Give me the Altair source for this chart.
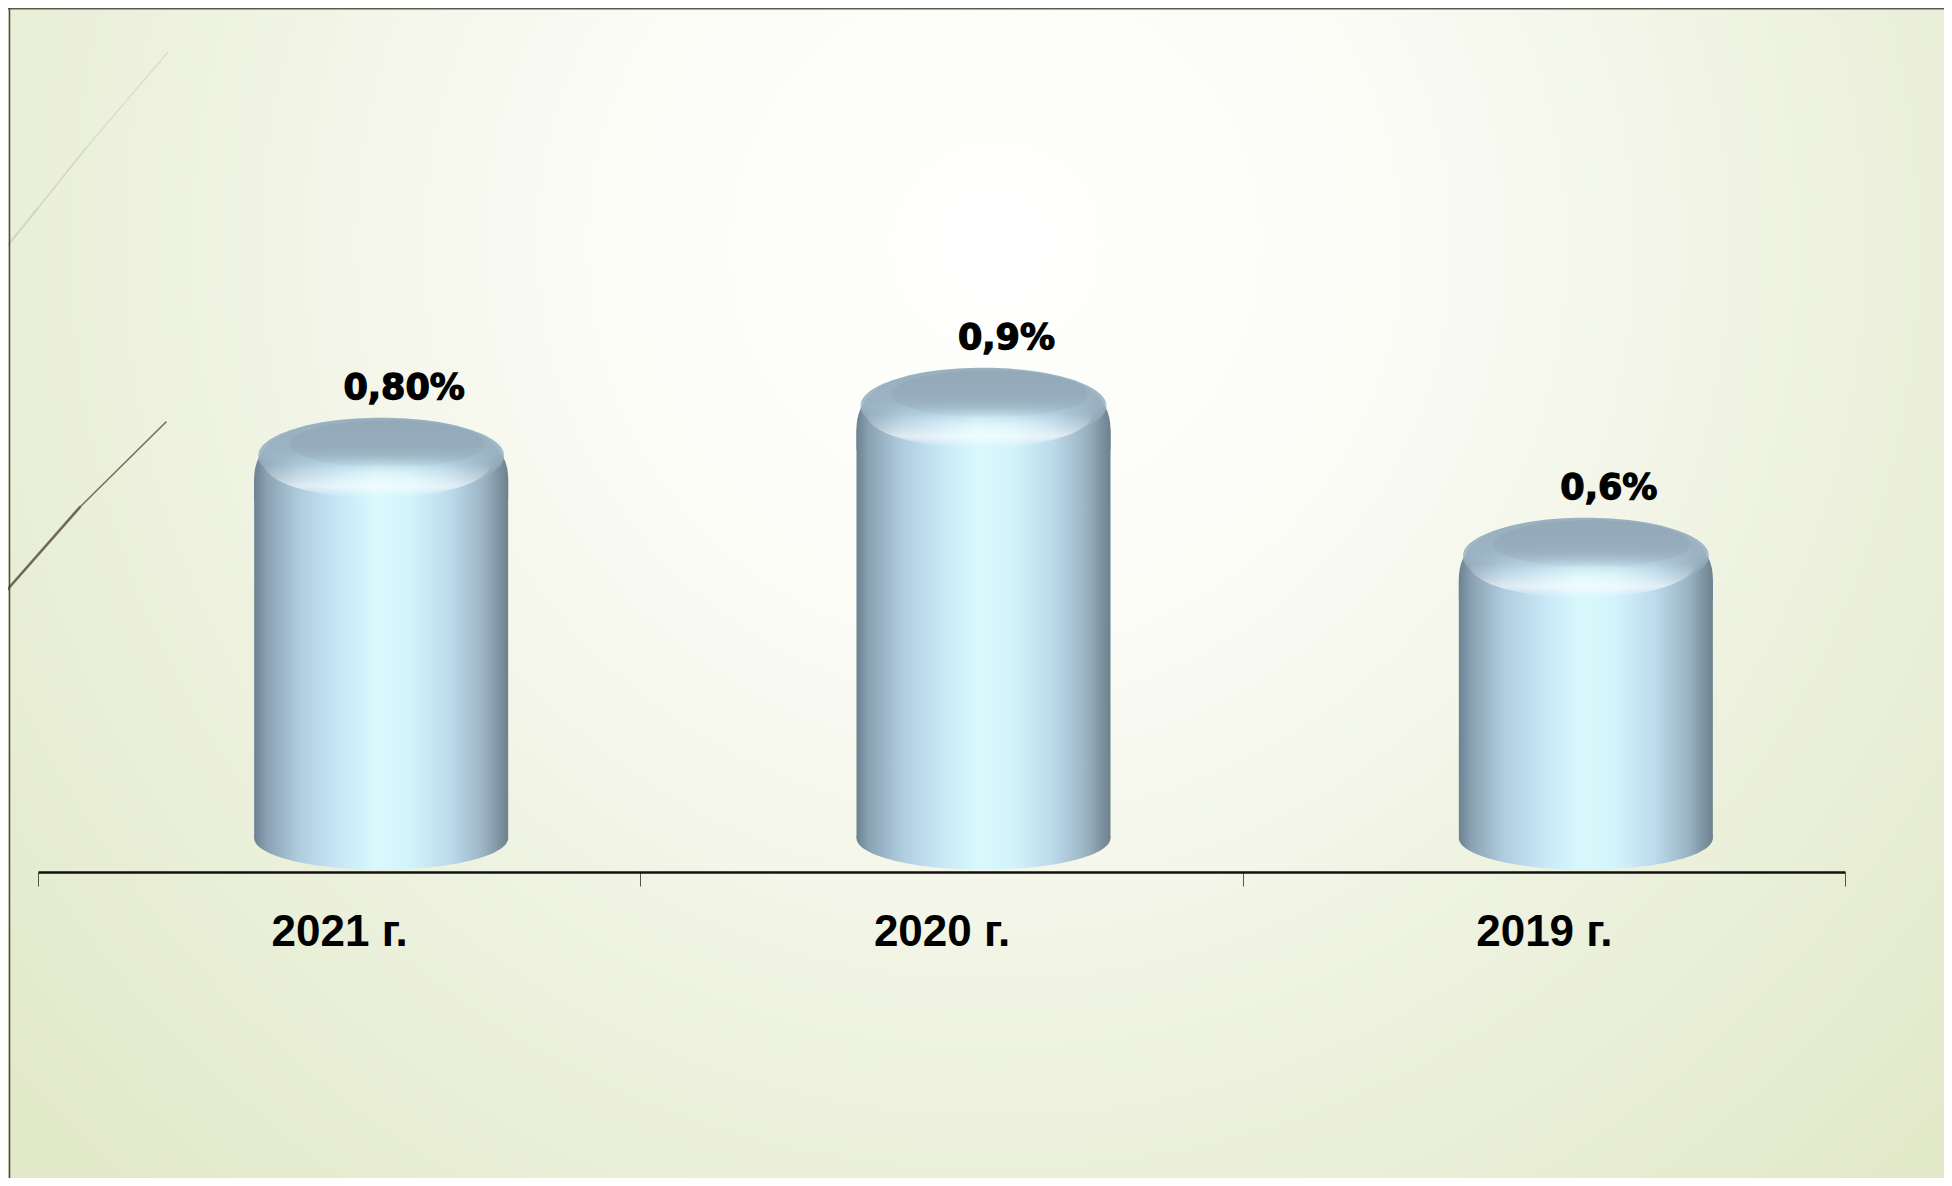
import altair as alt
import pandas as pd

# ---- data ----
years = ["2021 г.", "2020 г.", "2019 г."]
values = [0.80, 0.90, 0.60]
value_labels = ["0,80%", "0,9%", "0,6%"]

df = pd.DataFrame({"year": years, "value": values, "label": value_labels})
one = alt.Data(values=[{"k": 0}])

# ---- layout / style ----
W, H = 1807, 850
PL, PT = 30, 2
PAD = {"left": PL, "top": PT, "right": 99, "bottom": 318}
SVG_W, SVG_H = 1936, 1170
BAR_W = 254
BAR_DX = 42
FLOOR = -22
BODY_TOP = 19

AXIS_FONT = "Liberation Sans, Arial, sans-serif"
LABEL_FONT = "DejaVu Sans"

x_axis = alt.Axis(
    title=None, labelAngle=0, labelFont=AXIS_FONT, labelFontSize=44,
    labelFontWeight="bold", labelColor="#000000", labelPadding=24,
    domainColor="#111111", domainWidth=2.5, tickBand="extent",
    tickColor="#555555", tickSize=14, tickWidth=1, offset=12, grid=False,
    zindex=5,
)
x_scale = alt.Scale(paddingInner=0, paddingOuter=0)
y_scale = alt.Scale(domain=[0, 1.7], nice=False, zero=True)


def X():
    return alt.X("year:N", sort=years, scale=x_scale, axis=x_axis)


def stops(pairs):
    return [alt.GradientStop(color=c, offset=o) for o, c in pairs]


def hgrad(pairs):
    return alt.LinearGradient(gradient="linear", x1=0, x2=1, y1=0, y2=0, stops=stops(pairs))


def vgrad(pairs):
    return alt.LinearGradient(gradient="linear", x1=0, x2=0, y1=0, y2=1, stops=stops(pairs))


body_grad = hgrad([
    (0.0, "#6c8292"), (0.05, "#8aa2b3"), (0.18, "#b0cde0"),
    (0.33, "#c7e7f6"), (0.48, "#d9f9fd"), (0.62, "#d3f3fb"),
    (0.77, "#bcdbec"), (0.9, "#9cb5c5"), (1.0, "#6d808d"),
])
top_grad = vgrad([
    (0.0, "rgba(150,172,188,0.96)"), (0.45, "rgba(156,180,196,0.9)"),
    (0.65, "rgba(170,195,210,0.35)"), (0.8, "rgba(190,215,228,0)"),
    (1.0, "rgba(190,215,228,0)"),
])
shine_grad = vgrad([
    (0.0, "rgba(255,255,255,0)"), (0.5, "rgba(255,255,255,0)"),
    (0.7, "rgba(255,255,255,0.3)"), (0.83, "rgba(255,255,255,0.6)"),
    (0.93, "rgba(255,255,255,0.25)"), (1.0, "rgba(255,255,255,0)"),
])
face_grad = vgrad([
    (0.0, "#93a9b8"), (0.55, "#97adbd"), (1.0, "rgba(155,178,193,0)"),
])
bg_grad = alt.RadialGradient(
    gradient="radial", x1=0.51, y1=0.32, r1=0, x2=0.51, y2=0.32, r2=0.68,
    stops=stops([
        (0.0, "#ffffff"), (0.3, "#fbfcf6"), (0.62, "#eef2e0"), (1.0, "#e2e9c8"),
    ]),
)


def ellipse(ratio):
    return f"M -1 0 A 1 {ratio} 0 1 1 1 0 A 1 {ratio} 0 1 1 -1 0 Z"


ELL_BOTTOM = ellipse(0.25)
CAP = ("M -1 0.3 L -1 0.15 C -1 -0.16 -0.7 -0.33 0 -0.33 "
       "C 0.7 -0.33 1 -0.16 1 0.15 L 1 0.3 "
       "C 1 0.46 0.55 0.56 0 0.56 C -0.55 0.56 -1 0.46 -1 0.3 Z")
ELL_TOP = ellipse(0.31)
ELL_SHINE = ellipse(0.3)
ELL_FACE = ellipse(0.24)

# ---- decorations (slide background, frame, grass strokes) ----
background = alt.Chart(one).mark_rect(fill=bg_grad, strokeWidth=0).encode(
    x=alt.value(-PL), x2=alt.value(SVG_W - PL), y=alt.value(-PT), y2=alt.value(SVG_H - PT)
)


def seg(x1, y1, x2, y2, color, width):
    return alt.Chart(one).mark_rule(color=color, strokeWidth=width, strokeCap="round").encode(
        x=alt.value(x1), x2=alt.value(x2), y=alt.value(y1), y2=alt.value(y2)
    )


deco = [
    seg(-38, 245, 0, 198, "#d2d7bf", 2),
    seg(0, 198, 48, 138, "#d4d9c1", 1.7),
    seg(48, 138, 130, 42, "#dadfc9", 1.3),
    seg(-38, 588, 42, 497, "#6f6852", 2.6),
    seg(42, 497, 128, 412, "#777058", 1.6),
    seg(-PL, -1.5, SVG_W - PL, -1.5, "#5a5a52", 2),
    seg(-28.5, -PT, -28.5, SVG_H - PT, "#4a4a44", 1.5),
]

# ---- cylinders ----
base = alt.Chart(df)


def Yv():
    return alt.Y("value:Q", scale=y_scale, axis=None)


def blob(shape, width, fill, dx=0, dy=0):
    return base.mark_point(
        shape=shape, size=width ** 2, filled=True, fill=fill, strokeWidth=0,
        opacity=1, xOffset=BAR_DX + dx, yOffset=dy,
    ).encode(x=X(), y=Yv())


bottom = base.mark_point(
    shape=ELL_BOTTOM, size=BAR_W ** 2, filled=True, fill=body_grad,
    strokeWidth=0, opacity=1, xOffset=BAR_DX, yOffset=FLOOR,
).encode(x=X(), y=alt.YDatum(0, scale=y_scale, axis=None))

body = base.mark_bar(
    width=BAR_W, xOffset=BAR_DX, yOffset=BODY_TOP, y2Offset=FLOOR,
    fill=body_grad, strokeWidth=0,
).encode(x=X(), y=Yv(), y2=alt.Y2Datum(0))

cap = blob(CAP, BAR_W, body_grad)
cap_top = blob(ELL_TOP, 246, top_grad, dy=-4)
shine = blob(ELL_SHINE, 226, shine_grad, dx=-4, dy=4)
face = blob(ELL_FACE, 196, face_grad, dx=6, dy=-16)

labels = base.mark_text(
    font=LABEL_FONT, fontSize=35, fontWeight="bold", color="#000000",
    stroke="#000000", strokeWidth=1.3,
    align="center", baseline="alphabetic", dx=65, dy=-61,
).encode(x=X(), y=Yv(), text="label:N")

chart = alt.layer(
    background, *deco, bottom, body, cap, cap_top, shine, face, labels
).properties(
    width=W, height=H, padding=PAD,
    autosize=alt.AutoSizeParams(type="none"),
    background="#f3f6ea",
).configure_view(stroke=None)

chart.save("out.html", embed_options={"renderer": "svg", "actions": False})
